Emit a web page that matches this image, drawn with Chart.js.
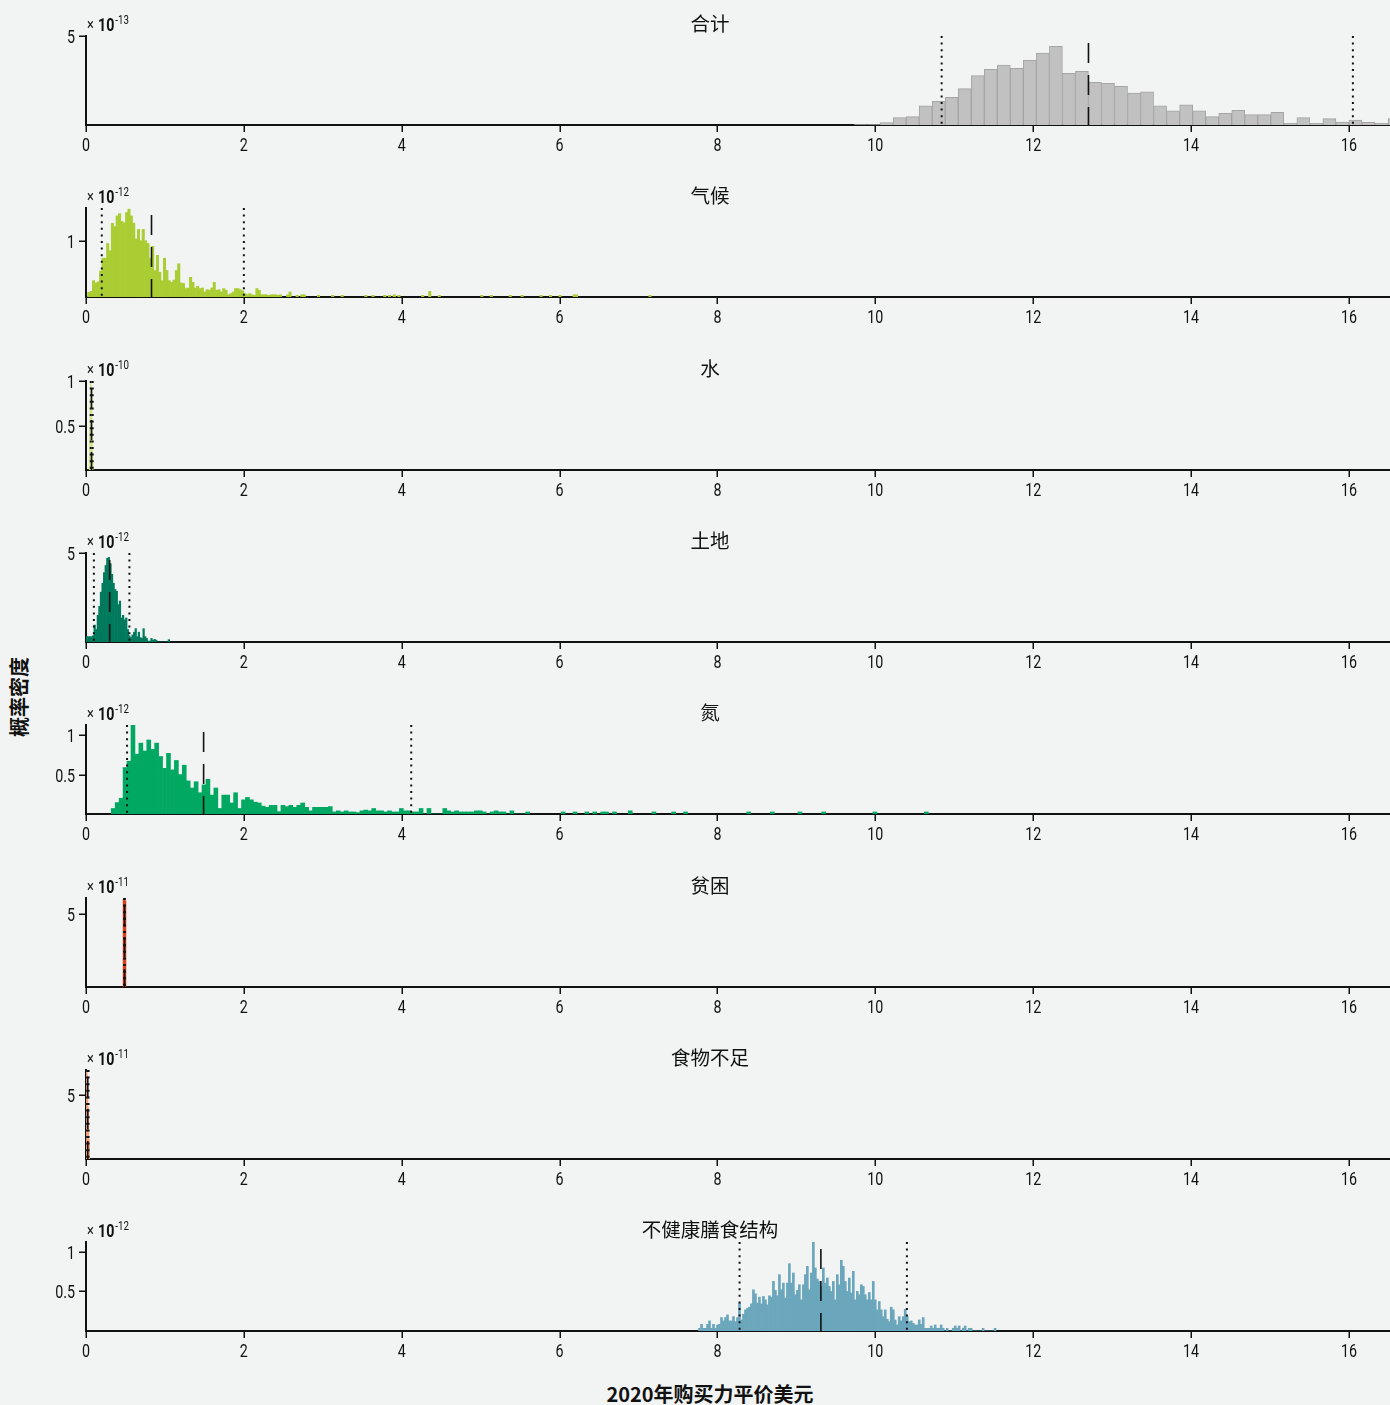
<!DOCTYPE html>
<html>
<head>
<meta charset="utf-8">
<script src="https://cdn.jsdelivr.net/npm/chart.js@4/dist/chart.umd.min.js"></script>
<style>
body { margin: 0; background: #f2f4f3; }
#wrap { position: relative; width: 1390px; height: 1405px; overflow: hidden; }
canvas { position: absolute; left: 0; }
.lab { position: absolute; font-family: "Noto Sans CJK SC"; font-weight: bold; font-size: 20px; color: #111; white-space: nowrap; text-align: center; line-height: 24px; }
#ylab { left: -21px; top: 685px; width: 80px; transform: rotate(-90deg); }
#xlab { left: 460px; top: 1382px; width: 500px; }
</style>
</head>
<body>
<div id="wrap">
  <div class="lab" id="ylab">概率密度</div>
  <div class="lab" id="xlab">2020年购买力平价美元</div>
</div>
<script>
// shared x axis
var xTicks = [0, 2, 4, 6, 8, 10, 12, 14, 16];
var xMax = 16.52;

var titles = ['合计', '气候', '水', '土地', '氮', '贫困', '食物不足', '不健康膳食结构'];
var exponents = ['-13', '-12', '-10', '-12', '-12', '-11', '-11', '-12'];
var yMaxes = [5, 1.58, 1.0, 5, 1.13, 6.1, 6.95, 1.12];
var yTicks = [[5], [1], [0.5, 1], [5], [0.5, 1], [5], [5], [0.5, 1]];
// [lower dotted, dashed, upper dotted]
var marks = [
    [10.84, 12.70, 16.05],
    [0.2, 0.83, 2.0],
    [0.06, 0.07, 0.085],
    [0.1, 0.30, 0.55],
    [0.52, 1.49, 4.12],
    [0.483, 0.488, 0.493],
    [0.015, 0.022, 0.032],
    [8.28, 9.31, 10.4]
];

// histogram bins: first left edge and bin width per panel
var binStarts = [9.73, 0.02, 0.04, 0, 0.32, 0.47, 0.005, 7.76];
var binWidths = [0.165, 0.03, 0.005, 0.02, 0.05, 0.012, 0.01, 0.0253];

var totalDensity = [0.03, 0.03, 0.13, 0.41, 0.47, 1.07, 1.33, 1.55, 2.04, 2.77, 3.13, 3.37, 3.18, 3.63, 4.04, 4.42,
    2.90, 3.01, 2.40, 2.34, 2.17, 1.80, 1.87, 1.07, 0.79, 1.14, 0.79, 0.47, 0.66, 0.82, 0.58, 0.58, 0.71,
    0.09, 0.41, 0.09, 0.36, 0.17, 0.28, 0.15, 0.09, 0.36];
var climateDensity = [0.08, 0.1, 0.29, 0.25, 0.27, 0.46, 0.69, 0.69, 0.95, 0.82, 1.31, 1.25, 1.44, 1.48, 1.34, 1.32,
    1.5, 1.56, 1.44, 1.31, 1.03, 1.2, 1.0, 1.2, 1.0, 0.95, 0.69, 0.9, 0.47, 0.74, 0.44, 0.29, 0.69, 0.47, 0.29,
    0.26, 0.3, 0.47, 0.59, 0.25, 0.24, 0.15, 0.16, 0.35, 0.26, 0.16, 0.19, 0.15, 0.16, 0.09, 0.13, 0.12, 0.16,
    0.26, 0.12, 0.13, 0.09, 0.15, 0.12, 0.04, 0.06, 0.09, 0.15, 0.15, 0.13, 0.11, 0.06, 0.04, 0.06, 0.04, 0.03,
    0.15, 0.12, 0.04, 0.04, 0.04, 0.03, 0.04, 0.04, 0.04, 0.03, 0.04];
var climateTailX = [2.555, 2.585, 2.675, 2.735, 2.765, 2.945, 3.125, 3.245, 3.545, 3.635, 3.785, 3.845, 3.905,
    3.965, 4.265, 4.355, 4.475, 5.015, 5.135, 5.375, 5.525, 5.765, 5.885, 6.005, 6.185, 6.215, 7.145];
var climateTailY = [0.04, 0.09, 0.03, 0.04, 0.04, 0.03, 0.03, 0.03, 0.03, 0.03, 0.03, 0.03, 0.04,
    0.03, 0.03, 0.1, 0.03, 0.03, 0.03, 0.03, 0.03, 0.03, 0.03, 0.03, 0.04, 0.04, 0.03];
var waterDensity = [0.15, 0.45, 0.8, 0.97, 1.0, 0.9, 0.7, 0.45, 0.2, 0.08];
var landDensity = [0.3, 0.3, 0.3, 0.3, 0.35, 0.95, 0.7, 1.5, 2.0, 2.8, 3.3, 3.9, 4.3, 4.7, 4.75, 4.4, 3.8, 3.3,
    2.95, 2.85, 2.1, 2.3, 1.35, 1.5, 1.25, 1.35, 0.7, 0.35, 0.25, 0.4, 0.55, 0.75, 0.3, 0.55, 0.25, 0.2, 0.75,
    0.3, 0.2, 0.05, 0.05, 0.2, 0.1, 0.15, 0.1, 0, 0, 0, 0, 0, 0, 0, 0.13];
var nitrogenDensity = [0.07, 0.145, 0.2, 0.59, 0.67, 1.13, 0.76, 0.9, 0.8, 0.94, 0.82, 0.9, 0.73, 0.58, 0.77,
    0.56, 0.68, 0.5, 0.62, 0.42, 0.33, 0.41, 0.27, 0.37, 0.44, 0.24, 0.33, 0.07, 0.24, 0.24, 0.14, 0.27, 0.07,
    0.18, 0.21, 0.18, 0.15, 0.14, 0.1, 0.085, 0.11, 0.11, 0.03, 0.11, 0.094, 0.11, 0.085, 0.11, 0.14, 0.085,
    0.04, 0.085, 0.085, 0.085, 0.085, 0.094, 0.026, 0.04, 0.026, 0.04, 0.026, 0.026, 0.017, 0.04, 0.05, 0.04,
    0.07, 0.04, 0.04, 0.026, 0.04, 0.026, 0.026, 0.07, 0.04, 0.04, 0.026, 0.026, 0.07, 0, 0.07, 0, 0, 0, 0.07,
    0.04, 0.026, 0.04, 0.026, 0.026, 0.026, 0.026, 0.04, 0.04, 0.026, 0, 0.026, 0.04, 0.026, 0.026, 0, 0.04,
    0, 0, 0, 0.026];
var nitrogenTailX = [6.045, 6.195, 6.345, 6.445, 6.545, 6.595, 6.695, 6.895, 7.195, 7.445, 7.595, 8.395,
    8.695, 9.045, 9.345, 9.995, 10.645];
var nitrogenTailY = [0.026, 0.026, 0.026, 0.026, 0.026, 0.026, 0.026, 0.04, 0.026, 0.026, 0.026, 0.026,
    0.026, 0.026, 0.026, 0.026, 0.026];
var povertyDensity = [6.0, 6.1, 5.9];
var foodDensity = [6.9, 6.5, 4.0, 1.5];
var dietDensity = [0.034, 0.084, 0.034, 0.034, 0.084, 0.127, 0.034, 0.084, 0.034, 0.076,
    0.084, 0.169, 0.127, 0.169, 0.203, 0.127, 0.127, 0.181, 0.118, 0.169,
    0.35, 0.139, 0.211, 0.266, 0.287, 0.3, 0.342, 0.519, 0.468, 0.35,
    0.426, 0.342, 0.435, 0.392, 0.329, 0.443, 0.426, 0.624, 0.511, 0.443,
    0.709, 0.519, 0.603, 0.414, 0.603, 0.848, 0.603, 0.73, 0.456, 0.511,
    0.582, 0.392, 0.582, 0.709, 0.814, 0.519, 0.73, 1.118, 0.793, 0.654,
    0.624, 0.561, 0.793, 0.603, 0.667, 0.561, 0.498, 0.624, 0.392, 0.709,
    0.582, 0.89, 0.814, 0.624, 0.498, 0.667, 0.477, 0.751, 0.392, 0.498,
    0.456, 0.582, 0.561, 0.456, 0.392, 0.485, 0.392, 0.624, 0.392, 0.266,
    0.371, 0.266, 0.181, 0.266, 0.148, 0.118, 0.3, 0.266, 0.139, 0.076,
    0.181, 0.127, 0.181, 0.274, 0.181, 0.118, 0.127, 0.097, 0.076, 0.076,
    0.139, 0.084, 0.169, 0.034, 0.034, 0.034, 0.063, 0.034, 0.076, 0.034,
    0.034, 0.076, 0.034, 0, 0.034, 0, 0, 0.034, 0.063, 0.034,
    0.063, 0, 0.034, 0.063, 0, 0.034, 0.034, 0, 0, 0,
    0, 0, 0.034, 0, 0, 0, 0, 0, 0.034];

var densities = [totalDensity, climateDensity, waterDensity, landDensity, nitrogenDensity, povertyDensity, foodDensity, dietDensity];
var tails = [null, [climateTailX, climateTailY], null, null, [nitrogenTailX, nitrogenTailY], null, null, null];

var fills = ['#c0c1c0', '#aacd33', '#d3e389', '#007a5c', '#00a862', '#d9401c', '#f3a47e', '#6aa6bc'];

var panelH = 172.3;
var wrap = document.getElementById('wrap');

function binPoints(start, width, vals) {
    return vals.map(function (v, i) { return { x: start + (i + 0.5) * width, y: v }; });
}

// condensed-looking text: squeeze Roboto horizontally
function narrowText(ctx, text, x, y, font, align) {
    ctx.save();
    ctx.font = font;
    ctx.translate(x, y);
    ctx.scale(0.75, 1);
    ctx.textAlign = align;
    ctx.fillText(text, 0, 0);
    var w = ctx.measureText(text).width * 0.75;
    ctx.restore();
    return w;
}

titles.forEach(function (title, i) {
    var canvas = document.createElement('canvas');
    canvas.width = 1390;
    canvas.height = 172;
    canvas.style.top = Math.round(i * panelH) + 'px';
    wrap.appendChild(canvas);

    var pts = binPoints(binStarts[i], binWidths[i], densities[i]);
    if (tails[i]) {
        tails[i][0].forEach(function (x, k) { pts.push({ x: x, y: tails[i][1][k] }); });
    }
    var yMax = yMaxes[i];
    var m = marks[i];
    var dotted = { type: 'line', borderColor: '#111', borderWidth: 2, borderDash: [2, 4.6], pointRadius: 0, fill: false, order: 0 };
    var datasets = [{
        type: 'bar',
        data: pts,
        backgroundColor: fills[i],
        borderColor: i === 0 ? '#a4a5a4' : fills[i],
        borderWidth: i === 0 ? 1 : 0,
        barPercentage: 1,
        categoryPercentage: 1,
        order: 1
    },
    Object.assign({}, dotted, { data: [{ x: m[0], y: yMax }, { x: m[0], y: 0 }] }),
    Object.assign({}, dotted, { data: [{ x: m[2], y: yMax }, { x: m[2], y: 0 }] }),
    { type: 'line', data: [{ x: m[1], y: yMax * 0.92 }, { x: m[1], y: 0 }], borderColor: '#111', borderWidth: 1.6,
      borderDash: [20, 12], pointRadius: 0, fill: false, order: 0 }];

    var textPlugin = {
        id: 'panelText' + i,
        afterDraw: function (chart) {
            var ctx = chart.ctx, a = chart.chartArea;
            var sx = chart.scales.x, sy = chart.scales.y;
            ctx.save();
            // tick marks
            ctx.strokeStyle = '#111';
            ctx.lineWidth = 1.5;
            ctx.beginPath();
            xTicks.forEach(function (v) {
                var px = Math.round(sx.getPixelForValue(v)) + 0.25;
                ctx.moveTo(px, a.bottom);
                ctx.lineTo(px, a.bottom + 7);
            });
            yTicks[i].forEach(function (v) {
                var py = Math.round(sy.getPixelForValue(v)) + 0.25;
                ctx.moveTo(a.left, py);
                ctx.lineTo(a.left - 7, py);
            });
            ctx.stroke();

            ctx.fillStyle = '#111';
            ctx.textBaseline = 'alphabetic';
            // title
            ctx.textAlign = 'center';
            ctx.font = '19.5px "Noto Sans CJK SC"';
            ctx.fillText(title, 710, a.top - 5);
            // tick labels
            xTicks.forEach(function (v) {
                narrowText(ctx, String(v), sx.getPixelForValue(v), a.bottom + 26, '19px Roboto', 'center');
            });
            yTicks[i].forEach(function (v) {
                narrowText(ctx, String(v), a.left - 11, sy.getPixelForValue(v) + 7, '19px Roboto', 'right');
            });
            // exponent
            narrowText(ctx, '×', a.left + 1, a.top - 6, '17px Roboto', 'left');
            var w = narrowText(ctx, '10', a.left + 12, a.top - 5, 'bold 19px Roboto', 'left');
            narrowText(ctx, exponents[i], a.left + 12 + w + 1, a.top - 12, '13px Roboto', 'left');
            ctx.restore();
        }
    };

    new Chart(canvas.getContext('2d'), {
        type: 'bar',
        data: { datasets: datasets },
        options: {
            responsive: false,
            animation: false,
            devicePixelRatio: 1,
            layout: { padding: { top: 36, left: 0, right: 0, bottom: 0 } },
            plugins: { legend: { display: false }, tooltip: { enabled: false } },
            scales: {
                x: {
                    type: 'linear', min: 0, max: xMax, offset: false, z: 1,
                    afterBuildTicks: function (s) { s.ticks = xTicks.map(function (v) { return { value: v }; }); },
                    afterFit: function (s) { s.height = 47; },
                    grid: { display: false },
                    border: { color: '#111', width: 2 },
                    ticks: { display: false }
                },
                y: {
                    type: 'linear', min: 0, max: yMax, z: 1,
                    afterBuildTicks: function (s) { s.ticks = yTicks[i].map(function (v) { return { value: v }; }); },
                    afterFit: function (s) { s.width = 86; },
                    grid: { display: false },
                    border: { color: '#111', width: 2 },
                    ticks: { display: false }
                }
            }
        },
        plugins: [textPlugin]
    });
});
</script>
</body>
</html>
